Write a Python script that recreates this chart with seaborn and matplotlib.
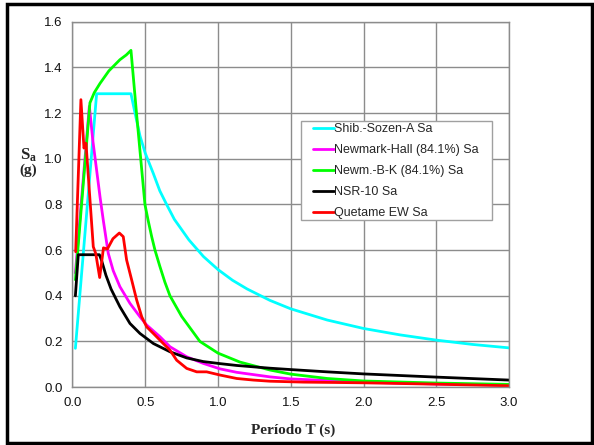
import numpy as np
import pandas as pd
import matplotlib
matplotlib.use("Agg")
import matplotlib.pyplot as plt
import seaborn as sns
from matplotlib.patches import Rectangle

# --- data ---
T_shib = [0.02, 0.166, 0.402, 0.43, 0.464, 0.50, 0.556, 0.60, 0.647, 0.70, 0.739, 0.80, 0.90, 1.00, 1.10, 1.20,
          1.357, 1.50, 1.75, 2.00, 2.25, 2.50, 2.75, 3.00]
Sa_shib = [0.17, 1.285, 1.285, 1.20, 1.10, 1.025, 0.935, 0.86, 0.80, 0.735, 0.70, 0.645, 0.572, 0.515, 0.468, 0.43,
           0.38, 0.343, 0.294, 0.257, 0.229, 0.206, 0.187, 0.172]

T_nh = [0.02, 0.116, 0.14, 0.166, 0.19, 0.212, 0.246, 0.28, 0.326, 0.395, 0.464, 0.51, 0.601, 0.67, 0.785,
        0.899, 1.014, 1.128, 1.357, 1.50, 2.00, 2.50, 3.00]
Sa_nh = [0.50, 1.23, 1.08, 0.95, 0.83, 0.73, 0.586, 0.51, 0.44, 0.367, 0.308, 0.272, 0.221, 0.177, 0.133,
         0.104, 0.08, 0.065, 0.045, 0.036, 0.022, 0.014, 0.009]

T_nbk = [0.02, 0.12, 0.15, 0.189, 0.25, 0.326, 0.37, 0.402, 0.44, 0.469, 0.498, 0.52, 0.544, 0.567, 0.60,
         0.635, 0.67, 0.75, 0.876, 1.00, 1.15, 1.357, 1.50, 1.75, 2.00, 2.50, 3.00]
Sa_nbk = [0.47, 1.245, 1.29, 1.33, 1.385, 1.434, 1.455, 1.475, 1.20, 1.00, 0.80, 0.73, 0.66, 0.60, 0.53,
          0.46, 0.40, 0.31, 0.20, 0.149, 0.11, 0.075, 0.057, 0.038, 0.027, 0.018, 0.012]

T_nsr = [0.02, 0.04, 0.185, 0.20, 0.23, 0.265, 0.30, 0.326, 0.395, 0.464, 0.556, 0.67, 0.785, 0.899, 1.014,
         1.128, 1.357, 1.50, 1.75, 2.00, 2.50, 3.00]
Sa_nsr = [0.40, 0.58, 0.58, 0.555, 0.49, 0.43, 0.385, 0.352, 0.279, 0.235, 0.191, 0.155, 0.128, 0.112, 0.103,
          0.095, 0.083, 0.077, 0.067, 0.058, 0.044, 0.031]

T_quet = [0.022, 0.058, 0.079, 0.093, 0.143, 0.16, 0.187, 0.213, 0.24, 0.278, 0.322, 0.349, 0.372, 0.407,
          0.441, 0.476, 0.51, 0.556, 0.624, 0.67, 0.716, 0.785, 0.854, 0.922, 1.014, 1.128, 1.243, 1.357,
          1.59, 2.00, 2.50, 3.00]
Sa_quet = [0.593, 1.259, 1.047, 1.068, 0.615, 0.585, 0.48, 0.61, 0.605, 0.65, 0.675, 0.659, 0.557, 0.469,
           0.382, 0.308, 0.264, 0.235, 0.191, 0.162, 0.118, 0.082, 0.067, 0.067, 0.053, 0.038, 0.031, 0.026,
           0.022, 0.019, 0.013, 0.006]

series = [
    ("Shib.-Sozen-A Sa", T_shib, Sa_shib, "#00FFFF"),
    ("Newmark-Hall (84.1%) Sa", T_nh, Sa_nh, "#FF00FF"),
    ("Newm.-B-K (84.1%) Sa", T_nbk, Sa_nbk, "#00FF00"),
    ("NSR-10 Sa", T_nsr, Sa_nsr, "#000000"),
    ("Quetame EW Sa", T_quet, Sa_quet, "#FF0000"),
]

sns.set_style("white")
plt.rcParams['font.family'] = ['Liberation Sans', 'DejaVu Sans']
plt.rcParams['mathtext.fontset'] = 'custom'
plt.rcParams['mathtext.rm'] = 'Liberation Serif'
plt.rcParams['mathtext.bf'] = 'Liberation Serif:bold'

fig = plt.figure(figsize=(5.94, 4.45), dpi=100)
ax = fig.add_axes([0.122, 0.130, 0.735, 0.821])

for name, t, sa, col in series:
    df = pd.DataFrame({"T": t, "Sa": sa})
    sns.lineplot(data=df, x="T", y="Sa", ax=ax, color=col, linewidth=2.0,
                 label=name, sort=False, estimator=None)

ax.set_xlim(0, 3.0)
ax.set_ylim(0, 1.6)
ax.set_xticks(np.arange(0, 3.01, 0.5))
ax.set_yticks(np.arange(0, 1.61, 0.2))
ax.xaxis.set_major_formatter(matplotlib.ticker.FormatStrFormatter('%.1f'))
ax.yaxis.set_major_formatter(matplotlib.ticker.FormatStrFormatter('%.1f'))
ax.grid(True, color="#8c8c8c", linewidth=1.0)
ax.set_axisbelow(True)
for sp in ax.spines.values():
    sp.set_color("#8c8c8c")
    sp.set_linewidth(1.0)
ax.tick_params(axis='both', direction='out', length=4, width=1.0, color="#8c8c8c",
               labelsize=9.5, labelcolor="#111111", pad=3)
ax.set_xlabel("")
ax.set_ylabel("")

# legend box drawn separately so its padding matches the original
ax.add_patch(Rectangle((0.5235, 0.4575), 0.4376, 0.271, transform=ax.transAxes,
                       facecolor="white", edgecolor="#a0a0a0", linewidth=1.0, zorder=5))
leg = ax.legend(loc="upper left", bbox_to_anchor=(0.551, 0.722), frameon=False,
                fontsize=9, handlelength=1.65, handletextpad=0.0,
                labelspacing=0.72, borderpad=0, borderaxespad=0)
leg.set_zorder(6)

fig.text(0.493, 0.034, "Período T (s)", ha="center", va="center", fontsize=11,
         fontweight="bold", family="Liberation Serif")
fig.text(0.048, 0.650, r"$\mathbf{S_a}$", ha="center", va="center", fontsize=12)
fig.text(0.048, 0.617, "(g)", ha="center", va="center", fontsize=11,
         fontweight="bold", family="Liberation Serif")

fig.patches.append(Rectangle((7 / 594, 1 - 443 / 445), 585 / 594, 439 / 445,
                             transform=fig.transFigure, fill=False, edgecolor="black",
                             linewidth=2.5))

fig.savefig("out.png", dpi=100)
